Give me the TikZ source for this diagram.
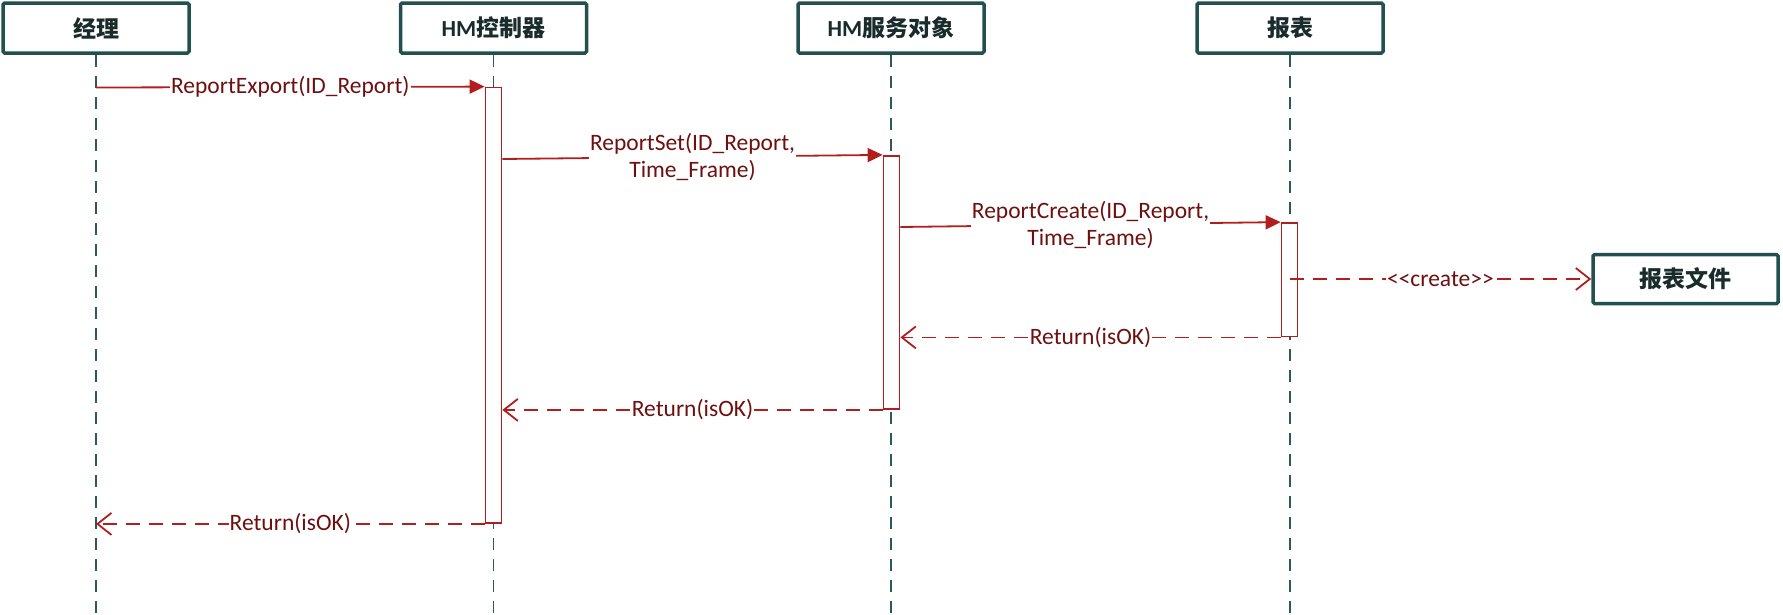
\documentclass[tikz,border=0pt]{standalone}
\usepackage{fontspec}
\setmainfont{Carlito}
\newfontfamily\cjk{Noto Sans CJK SC}
\usetikzlibrary{arrows.meta}
\definecolor{hdrline}{HTML}{22504F}
\definecolor{hdrtext}{HTML}{1A2B2B}
\definecolor{lifecol}{HTML}{2A5A5A}
\definecolor{msgcol}{HTML}{B21E1E}
\definecolor{lblcol}{HTML}{6E1010}
\tikzset{
  hdr/.style={draw=hdrline, line width=3.5pt, fill=white, rounded corners=1.5pt,
    minimum width=186pt, minimum height=50pt, inner sep=0pt,
    text=hdrtext, font=\fontsize{23}{27}\selectfont\bfseries},
  life/.style={draw=lifecol, line width=1.8pt, dash pattern=on 12pt off 9pt},
  actbar/.style={draw=msgcol, line width=1.8pt, fill=white, inner sep=0pt, minimum width=16pt},
  syncmsg/.style={draw=msgcol, line width=1.8pt, -{Triangle[length=15pt,width=14pt]}},
  retmsg/.style={draw=msgcol, line width=1.8pt, dash pattern=on 14pt off 9pt,
    -{Straight Barb[length=14pt,width=22pt,line width=1.8pt]}},
  lbl/.style={fill=white, text=lblcol, inner xsep=1pt, inner ysep=0pt, align=center,
    font=\fontsize{23.5}{27}\selectfont}
}
\begin{document}
\begin{tikzpicture}[x=1pt,y=-1pt]
\useasboundingbox (0,0) rectangle (1783,614);
% headers
\node[hdr] (A) at (96,28) {\cjk 经理};
\node[hdr] (B) at (493.5,28) {HM\cjk 控制器};
\node[hdr] (C) at (891,28) {HM\cjk 服务对象};
\node[hdr] (D) at (1290,28) {\cjk 报表};
% lifeline ends
\coordinate (Ae) at (96,614);
\coordinate (Be) at (493.5,614);
\coordinate (Ce) at (891,614);
\coordinate (De) at (1290,614);
\draw[life] (A.south) -- (Ae);
\draw[life] (B.south) -- (Be);
\draw[life] (C.south) -- (Ce);
\draw[life] (D.south) -- (De);
% activation bars
\node[actbar, minimum height=435.5pt] (barB) at (493.5,305.25) {};
\node[actbar, minimum height=253.2pt] (barC) at (891.5,282.4) {};
\node[actbar, minimum height=113.5pt] (barD) at (1289.5,279.75) {};
% created object
\node[hdr, minimum width=185pt, minimum height=49pt] (E) at (1685.5,279) {\cjk 报表文件};
% messages
\coordinate (m1) at (96,87.5);
\draw[syncmsg] (m1) -- node[lbl] {ReportExport(ID\_Report)} (barB.north west);
\draw[syncmsg] (barB.east |- 0,159) -- node[lbl] {ReportSet(ID\_Report,\\Time\_Frame)} (barC.north west);
\draw[syncmsg] (barC.east |- 0,227) -- node[lbl] {ReportCreate(ID\_Report,\\Time\_Frame)} (barD.north west);
\draw[retmsg] (barD.center |- E.west) -- node[lbl] {<{}<create>{}>} (E.west);
\draw[retmsg] (barD.south west) -- node[lbl] {Return(isOK)} (barC.east |- barD.south);
\draw[retmsg] (barC.south west) -- node[lbl] {Return(isOK)} (barB.east |- barC.south);
\draw[retmsg] (barB.south west) -- node[lbl] {Return(isOK)} (A.south |- barB.south);
\end{tikzpicture}
\end{document}
